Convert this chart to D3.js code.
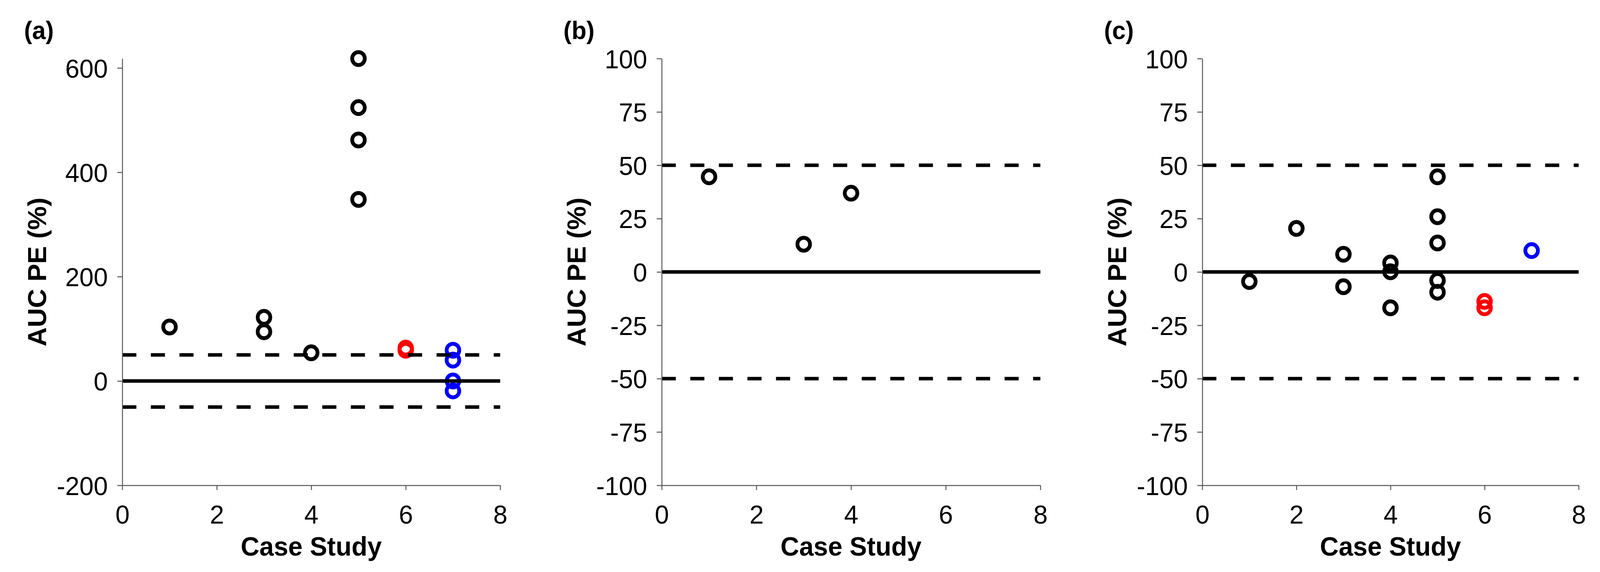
<!DOCTYPE html>
<html>
<head>
<meta charset="utf-8">
<script src="https://cdn.jsdelivr.net/npm/d3@7"></script>
<style>
  html, body { margin: 0; padding: 0; width: 100%; height: 100%; background: #fff; overflow: hidden; }
  svg { display: block; width: 100vw; height: 100vh; }
  text { font-family: "Liberation Sans", Arial, sans-serif; fill: #000; }
</style>
</head>
<body>
<svg id="chart" viewBox="0 0 4200 1465" preserveAspectRatio="none"></svg>
<script>
// ---- data ----
// panel (a)
var aBlackX = [1, 3, 3, 4, 5, 5, 5, 5];
var aBlackY = [103.5, 122, 94.5, 54, 618, 524, 462, 348];
var aRedX = [6, 6];
var aRedY = [63, 59];
var aBlueX = [7, 7, 7, 7];
var aBlueY = [59, 40, 0, -19];
// panel (b)
var bBlackX = [1, 3, 4];
var bBlackY = [44.6, 13, 36.9];
// panel (c)
var cBlackX = [1, 2, 3, 3, 4, 4, 4, 5, 5, 5, 5, 5];
var cBlackY = [-4.5, 20.4, 8.3, -6.9, 4.2, 0.1, -16.8, 44.6, 25.9, 13.6, -4, -9.5];
var cRedX = [6, 6];
var cRedY = [-13.8, -16.8];
var cBlueX = [7];
var cBlueY = [10];

// axes / ticks
var xTicks = [0, 2, 4, 6, 8];
var aYTicks = [-200, 0, 200, 400, 600];
var bcYTicks = [-100, -75, -50, -25, 0, 25, 50, 75, 100];
var panelLabels = ["(a)", "(b)", "(c)"];
var limitLines = [-50, 50]; // dashed +/-50 %
var zeroLine = [0];

function pts(xs, ys) {
  return xs.map(function(x, i) { return {x: x, y: ys[i]}; });
}

var panels = [
  { label: panelLabels[0], left: 321, right: 1313, yDomain: [-200, 618], yTicks: aYTicks,
    series: [ {pts: pts(aBlackX, aBlackY), color: "#000"},
              {pts: pts(aRedX, aRedY), color: "#ff0000"},
              {pts: pts(aBlueX, aBlueY), color: "#0000ff"} ] },
  { label: panelLabels[1], left: 1737, right: 2731, yDomain: [-100, 100], yTicks: bcYTicks,
    series: [ {pts: pts(bBlackX, bBlackY), color: "#000"} ] },
  { label: panelLabels[2], left: 3156, right: 4144, yDomain: [-100, 100], yTicks: bcYTicks,
    series: [ {pts: pts(cBlackX, cBlackY), color: "#000"},
              {pts: pts(cRedX, cRedY), color: "#ff0000"},
              {pts: pts(cBlueX, cBlueY), color: "#0000ff"} ] }
];

var plotTop = 150, plotBottom = 1243;
var svg = d3.select("#chart");
var plainNum = function(d) { return String(d); }; //keep the plain hyphen like the original

panels.forEach(function(p) {
  var xRange = d3.scaleLinear().domain([0, 8]).range([p.left, p.right]);
  var yRange = d3.scaleLinear().domain(p.yDomain).range([plotBottom, plotTop]);
  var g = svg.append("g");

  //markers first, the reference lines sit on top of them
  p.series.forEach(function(s) {
    g.selectAll(null)
      .data(s.pts)
      .enter().append("circle")
      .attr("cx", function(d) { return xRange(d.x); })
      .attr("cy", function(d) { return yRange(d.y); })
      .attr("r", 16.5)
      .attr("fill", "none")
      .attr("stroke", s.color)
      .attr("stroke-width", 10);
  });

  //dashed limits
  g.selectAll(null)
    .data(limitLines)
    .enter().append("line")
    .attr("x1", xRange(0)).attr("x2", xRange(8))
    .attr("y1", function(d) { return yRange(d); })
    .attr("y2", function(d) { return yRange(d); })
    .attr("stroke", "#000")
    .attr("stroke-width", 9)
    .attr("stroke-dasharray", "37,38");

  //zero line
  g.selectAll(null)
    .data(zeroLine)
    .enter().append("line")
    .attr("x1", xRange(0)).attr("x2", xRange(8))
    .attr("y1", function(d) { return yRange(d); })
    .attr("y2", function(d) { return yRange(d); })
    .attr("stroke", "#000")
    .attr("stroke-width", 9);

  //x axis
  var xAxis = d3.axisBottom(xRange).tickValues(xTicks).tickFormat(plainNum)
    .tickSize(12).tickSizeOuter(0).tickPadding(38);
  var xg = g.append("g")
    .attr("transform", "translate(0," + plotBottom + ")")
    .call(xAxis);

  //y axis
  var yAxis = d3.axisLeft(yRange).tickValues(p.yTicks).tickFormat(plainNum)
    .tickSize(13).tickSizeOuter(0).tickPadding(25);
  var yg = g.append("g")
    .attr("transform", "translate(" + p.left + ",0)")
    .call(yAxis);

  [xg, yg].forEach(function(a) {
    a.select(".domain").attr("stroke", "#555").attr("stroke-width", 2.5);
    a.selectAll(".tick line").attr("stroke", "#555").attr("stroke-width", 2.5);
    a.selectAll(".tick text")
      .style("font-family", '"Liberation Sans", Arial, sans-serif')
      .style("font-size", "67px")
      .attr("fill", "#000");
  });
  yg.selectAll(".tick text").attr("dy", "0.36em");

  //axis titles
  g.append("text")
    .attr("x", (p.left + p.right) / 2)
    .attr("y", 1423)
    .attr("text-anchor", "middle")
    .style("font-size", "68px")
    .style("font-weight", "bold")
    .text("Case Study");

  g.append("text")
    .attr("transform", "translate(" + (p.left - 224) + "," + ((plotTop + plotBottom) / 2) + ") rotate(-90)")
    .attr("text-anchor", "middle")
    .attr("dy", "0.36em")
    .style("font-size", "68px")
    .style("font-weight", "bold")
    .text("AUC PE (%)");

  //panel letter
  g.append("text")
    .attr("x", p.left - 258)
    .attr("y", 100)
    .style("font-size", "64px")
    .style("font-weight", "bold")
    .text(p.label);
});
</script>
</body>
</html>
